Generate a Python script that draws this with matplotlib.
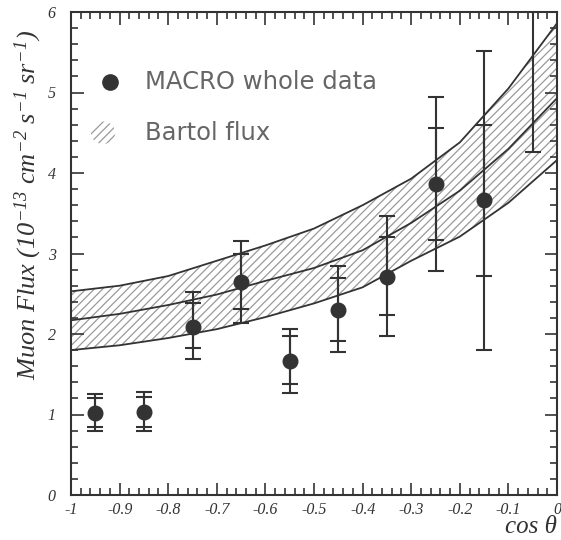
# coding:utf-8
import numpy as np
import matplotlib
matplotlib.use("Agg")
import matplotlib.pyplot as plt
from matplotlib.patches import Ellipse
from matplotlib.ticker import MultipleLocator

# donnees MACRO (cos theta, flux, barres stat et totales)
cos_t = [-0.95, -0.85, -0.75, -0.65, -0.55, -0.45, -0.35, -0.25, -0.15, -0.05]
flux = [1.02, 1.03, 2.09, 2.65, 1.67, 2.30, 2.71, 3.86, 3.66, 7.00]
stat_hi = [1.21, 1.22, 2.39, 3.00, 1.97, 2.70, 3.20, 4.56, 4.60, 7.80]
stat_lo = [0.85, 0.85, 1.82, 2.31, 1.375, 1.91, 2.24, 3.17, 2.72, 6.20]
tot_hi = [1.25, 1.28, 2.52, 3.16, 2.06, 2.85, 3.47, 4.95, 5.51, 8.00]
tot_lo = [0.79, 0.79, 1.69, 2.14, 1.27, 1.78, 1.97, 2.78, 1.80, 4.26]

# bande Bartol
bx = [-1.0, -0.9, -0.8, -0.7, -0.6, -0.5, -0.4, -0.3, -0.2, -0.1, 0.0]
b_up = [2.53, 2.60, 2.72, 2.91, 3.10, 3.31, 3.60, 3.93, 4.38, 5.05, 5.86]
b_mid = [2.17, 2.25, 2.36, 2.49, 2.66, 2.82, 3.04, 3.38, 3.78, 4.30, 4.93]
b_lo = [1.80, 1.86, 1.95, 2.06, 2.21, 2.38, 2.58, 2.91, 3.21, 3.63, 4.16]

plt.rcParams["hatch.color"] = "#9a9a9a"
plt.rcParams["hatch.linewidth"] = 0.9
plt.rcParams["mathtext.fontset"] = "custom"
plt.rcParams["mathtext.rm"] = "Liberation Serif:italic"
plt.rcParams["mathtext.it"] = "Liberation Serif:italic"

dark = "#333333"
fig = plt.figure(figsize=(5.61, 5.4), dpi=100)
ax = fig.add_axes([71 / 561, 45 / 540, 486 / 561, 483 / 540])

# bande hachuree + 3 courbes
ax.fill_between(bx, b_lo, b_up, facecolor="white", hatch="////", edgecolor="#9a9a9a", linewidth=0)
for c in [b_up, b_mid, b_lo]:
    ax.plot(bx, c, color=dark, lw=1.3)

x = np.array(cos_t)
f = np.array(flux)
ax.errorbar(x, f, yerr=[f - np.array(tot_lo), np.array(tot_hi) - f], fmt="none",
            ecolor=dark, elinewidth=1.5, capsize=6, capthick=1.5)
ax.errorbar(x, f, yerr=[f - np.array(stat_lo), np.array(stat_hi) - f], fmt="none",
            ecolor=dark, elinewidth=1.5, capsize=6, capthick=1.5)
ax.plot(x, f, "o", color=dark, ms=10.5)

# legende faite a la main
ax.plot([-0.92], [5.13], "o", color=dark, ms=11)
ax.text(-0.848, 5.13, "MACRO whole data", fontsize=17.5, color="#666666", va="center",
        family="DejaVu Sans")
ax.add_patch(Ellipse((-0.934, 4.50), 0.05, 0.28, facecolor="white", hatch="////",
                     edgecolor="#9a9a9a", linewidth=0))
ax.text(-0.848, 4.50, "Bartol flux", fontsize=17.5, color="#666666", va="center",
        family="DejaVu Sans")

ax.set_xlim(-1, 0)
ax.set_ylim(0, 6)
ax.xaxis.set_major_locator(MultipleLocator(0.1))
ax.xaxis.set_minor_locator(MultipleLocator(0.02))
ax.yaxis.set_major_locator(MultipleLocator(1))
ax.yaxis.set_minor_locator(MultipleLocator(0.2))
ax.tick_params(which="both", direction="in", top=True, right=True, color=dark, width=1.2)
ax.tick_params(which="major", length=9)
ax.tick_params(which="minor", length=5)
ax.tick_params(axis="y", pad=11)
ax.tick_params(axis="x", pad=5)
ax.set_xticks(np.arange(-1, 0.01, 0.1))
ax.set_xticklabels(["-1", "-0.9", "-0.8", "-0.7", "-0.6", "-0.5", "-0.4", "-0.3", "-0.2", "-0.1", "0"])
ax.set_yticks(range(7))
ax.set_yticklabels([str(i) for i in range(7)])
for lab in ax.get_xticklabels() + ax.get_yticklabels():
    lab.set_family("Liberation Serif")
    lab.set_style("italic")
    lab.set_fontsize(11.5)
    lab.set_color(dark)
for s in ax.spines.values():
    s.set_linewidth(1.5)
    s.set_color(dark)

ax.set_ylabel(r"$Muon\ Flux\ (10^{-13}\ cm^{-2}\ s^{-1}\ sr^{-1})$", fontsize=19, color=dark)
ax.yaxis.set_label_coords(-0.055, 0.6)
fig.text(557 / 561, 1 - 527 / 540, "cos θ", family="Liberation Serif", style="italic",
         fontsize=18, ha="right", va="center", color=dark)

fig.savefig("out.png", dpi=100)
